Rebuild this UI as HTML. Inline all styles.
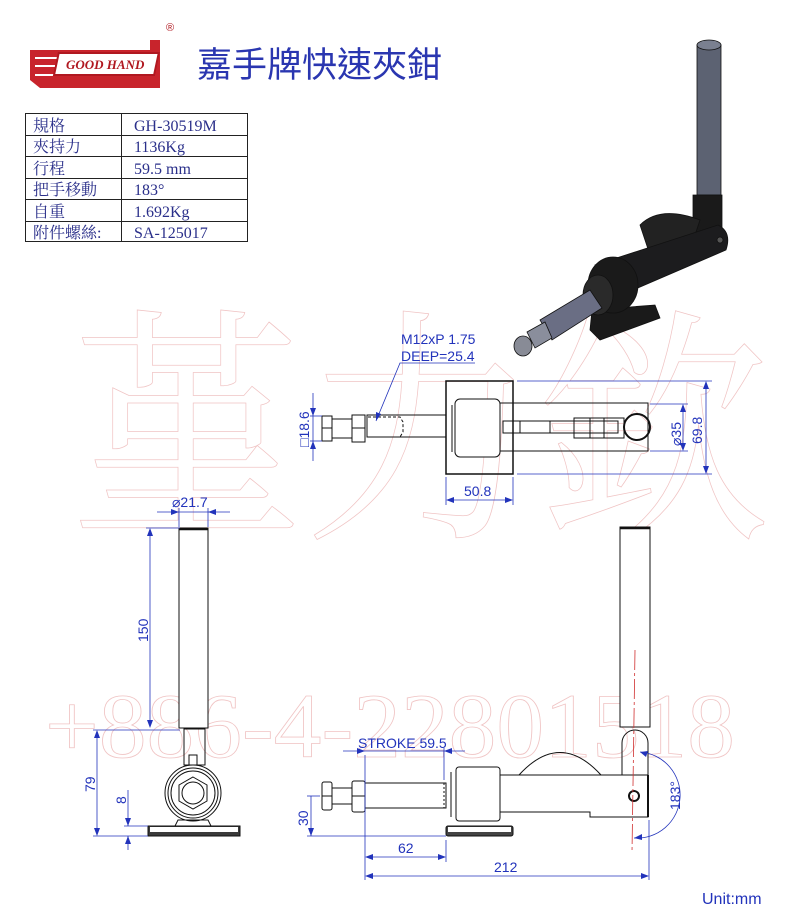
<!DOCTYPE html>
<html><head><meta charset="utf-8"><style>
html,body{margin:0;padding:0;background:#fff;}
svg{display:block;}
</style></head><body>
<svg width="800" height="915" viewBox="0 0 800 915" xmlns="http://www.w3.org/2000/svg">
<!-- watermark -->
<g fill="none" stroke="#f0c4c4" stroke-width="0.8" font-family="'Noto Serif CJK SC',serif">
<text x="70" y="520" font-size="250" textLength="700" lengthAdjust="spacingAndGlyphs">堇力欽</text>
</g>
<text x="45" y="757" font-family="'Liberation Serif',serif" font-size="92" fill="none" stroke="#f0c4c4" stroke-width="0.8" textLength="690" lengthAdjust="spacingAndGlyphs">+886-4-22801518</text>

<!-- logo -->
<g>
<path d="M30 50 L150 50 L150 40 L160 40 L160 88 L40 88 L30 80 Z" fill="#c8242c"/>
<path d="M40 47 L140 47 M35 58 L60 58 M35 66 L55 66 M35 75 L55 75" stroke="#fff" stroke-width="2"/>
<rect x="58" y="53" width="100" height="22" fill="#fff" stroke="#b01820" stroke-width="2" transform="skewX(-12) translate(12,0)"/>
<text x="66" y="69" font-family="'Liberation Serif',serif" font-style="italic" font-weight="bold" font-size="13" fill="#b01820">GOOD HAND</text>
<text x="166" y="31" font-family="'Liberation Sans',sans-serif" font-size="11" fill="#b01820">®</text>
</g>
<text x="197" y="77" font-family="'Liberation Sans','Noto Sans CJK TC',sans-serif" font-size="35" fill="#2a36b0">嘉手牌快速夾鉗</text>

<!-- table -->
<g stroke="#222" stroke-width="1" fill="none">
<rect x="25.5" y="113.5" width="222" height="128"/>
<line x1="121.5" y1="113" x2="121.5" y2="242"/>
<line x1="25" y1="135.5" x2="248" y2="135.5"/><line x1="25" y1="156.5" x2="248" y2="156.5"/>
<line x1="25" y1="178.5" x2="248" y2="178.5"/><line x1="25" y1="199.5" x2="248" y2="199.5"/>
<line x1="25" y1="221.5" x2="248" y2="221.5"/>
</g>
<g font-family="'Liberation Serif','Noto Serif CJK TC',serif" font-size="16" fill="#2a2f8a">
<text x="33" y="131">規格</text><text x="134" y="131">GH-30519M</text>
<text x="33" y="152">夾持力</text><text x="134" y="152">1136Kg</text>
<text x="33" y="174">行程</text><text x="134" y="174">59.5 mm</text>
<text x="33" y="195">把手移動</text><text x="134" y="195">183°</text>
<text x="33" y="217">自重</text><text x="134" y="217">1.692Kg</text>
<text x="33" y="238">附件螺絲:</text><text x="134" y="238">SA-125017</text>
</g>

<!-- iso view -->
<g stroke="#111" stroke-width="0.8">
<path d="M697 45 L721 45 L721 195 L697 195 Z" fill="#5c6272"/>
<ellipse cx="709" cy="45" rx="12" ry="5" fill="#7a8090"/>
<path d="M693 195 L722 195 L722 245 L693 250 Z" fill="#1a1a1a"/>
<path d="M640 225 Q660 205 700 220 L690 250 L650 255 Z" fill="#222"/>
<path d="M595 265 L718 225 Q732 232 726 250 L610 300 Z" fill="#1c1c1e"/>
<circle cx="720" cy="240" r="3" fill="#555"/>
<path d="M592 310 L655 305 L660 318 L600 340 L590 330 Z" fill="#1a1a1a"/>
<ellipse cx="613" cy="285" rx="25" ry="28" fill="#1a1a1a"/>
<ellipse cx="598" cy="295" rx="15" ry="20" fill="#2a2a2a"/>
<path d="M540 320 L590 290 L602 308 L552 340 Z" fill="#6a6e84"/>
<path d="M527 332 L545 322 L552 338 L535 348 Z" fill="#8a8e9c"/>
<ellipse cx="523" cy="346" rx="9" ry="10" fill="#888b96"/>
</g>

<!-- top view -->
<g stroke="#111" stroke-width="1" fill="none">
<rect x="446" y="381" width="67" height="93" stroke-width="1.5"/>
<rect x="500" y="403" width="148" height="48"/>
<rect x="455" y="399" width="45" height="58" rx="5" fill="#fff"/>
<line x1="452" y1="405" x2="452" y2="452"/>
<rect x="367" y="415" width="79" height="22"/>
<rect x="322" y="416" width="10" height="25"/><line x1="322" y1="428" x2="332" y2="428"/>
<rect x="332" y="419" width="20" height="19"/>
<rect x="352" y="415" width="13" height="27"/><line x1="352" y1="428" x2="365" y2="428"/>
<path d="M368 417 L400 417 L403 422 L403 432 L400 437 L368 437" stroke-dasharray="3,2"/>
<rect x="503" y="421" width="115" height="12"/>
<line x1="520" y1="421" x2="520" y2="433"/><line x1="550" y1="421" x2="550" y2="433"/>
<rect x="574" y="418" width="50" height="20"/>
<line x1="590" y1="418" x2="590" y2="438"/><line x1="604" y1="418" x2="604" y2="438"/>
<circle cx="637" cy="427" r="13" stroke-width="2"/>
</g>
<g stroke="#2233bb" stroke-width="0.8" fill="none">
<line x1="517" y1="381" x2="712" y2="381"/><line x1="517" y1="474" x2="712" y2="474"/>
<line x1="706" y1="383" x2="706" y2="472"/>
<line x1="650" y1="404" x2="688" y2="404"/><line x1="650" y1="451" x2="688" y2="451"/>
<line x1="683" y1="406" x2="683" y2="449"/>
<line x1="446" y1="477" x2="446" y2="505"/><line x1="513" y1="477" x2="513" y2="505"/>
<line x1="448" y1="500" x2="511" y2="500"/>
<line x1="310" y1="416" x2="322" y2="416"/><line x1="310" y1="441" x2="322" y2="441"/>
<line x1="313" y1="393" x2="313" y2="461"/>
<polyline points="376,421 400,363 475,363"/>
</g>
<g fill="#2233bb">
<path d="M706 381 l-3 8 h6z M706 474 l-3 -8 h6z M683 404 l-3 8 h6z M683 451 l-3 -8 h6z M446 500 l8 -3 v6z M513 500 l-8 -3 v6z M313 416 l-3 -8 h6z M313 441 l-3 8 h6z M376 421 l0 -9 l5 2z"/>
</g>
<g font-family="'Liberation Sans',sans-serif" font-size="14" fill="#2233bb">
<text x="401" y="344">M12xP 1.75</text>
<text x="401" y="361">DEEP=25.4</text>
<text x="464" y="496">50.8</text>
<text transform="translate(702,444) rotate(-90)">69.8</text>
<text transform="translate(681,446) rotate(-90)">⌀35</text>
<text transform="translate(309,447) rotate(-90)">□18.6</text>
</g>

<!-- left view -->
<g stroke="#111" stroke-width="1" fill="none">
<rect x="179" y="528" width="29" height="200" fill="#fff"/>
<line x1="179" y1="529" x2="208" y2="529" stroke-width="2.5"/>
<rect x="184" y="729" width="21" height="36"/>
<rect x="189" y="755" width="8" height="10"/>
<circle cx="193" cy="793" r="28"/><circle cx="193" cy="793" r="25"/><circle cx="193" cy="793" r="22"/>
<polygon points="193,777 207,785 207,801 193,809 179,801 179,785"/>
<circle cx="193" cy="793" r="11"/>
<path d="M178 820 h30 l3 6 h-36z"/>
<rect x="148" y="826" width="92" height="10" fill="#3a3a3a" stroke-width="1"/>
<rect x="150" y="827" width="88" height="5" fill="#fff" stroke="none"/>
</g>
<g stroke="#2233bb" stroke-width="0.8" fill="none">
<line x1="157" y1="512" x2="230" y2="512"/>
<line x1="179" y1="508" x2="179" y2="527"/><line x1="208" y1="508" x2="208" y2="527"/>
<line x1="146" y1="528" x2="180" y2="528"/><line x1="150" y1="530" x2="150" y2="726"/>
<line x1="93" y1="730" x2="180" y2="730"/><line x1="97" y1="732" x2="97" y2="834"/>
<line x1="93" y1="836" x2="148" y2="836"/><line x1="124" y1="826" x2="148" y2="826"/>
<line x1="128" y1="790" x2="128" y2="826"/><line x1="128" y1="836" x2="128" y2="850"/>
</g>
<g fill="#2233bb">
<path d="M179 512 l-8 -3 v6z M208 512 l8 -3 v6z M150 528 l-3 8 h6z M150 728 l-3 -8 h6z M97 730 l-3 8 h6z M97 836 l-3 -8 h6z M128 826 l-3 -8 h6z M128 836 l-3 8 h6z"/>
</g>
<g font-family="'Liberation Sans',sans-serif" font-size="14" fill="#2233bb">
<text x="172" y="507">⌀21.7</text>
<text transform="translate(148,642) rotate(-90)">150</text>
<text transform="translate(95,792) rotate(-90)">79</text>
<text transform="translate(126,804) rotate(-90)">8</text>
</g>

<!-- side view -->
<g stroke="#111" stroke-width="1" fill="none">
<rect x="620" y="527" width="30" height="200" fill="#fff"/>
<line x1="620" y1="528" x2="650" y2="528" stroke-width="2.5"/>
<path d="M622 775 L622 743 A13 13 0 0 1 648 743 L648 775"/>
<path d="M519 775 Q560 730 601 775"/>
<path d="M500 775 L648 775 L648 817 L590 817 L590 812 L500 812 Z" fill="#fff"/>
<line x1="648" y1="775" x2="648" y2="817" stroke-width="2"/>
<rect x="456" y="767" width="44" height="54" rx="3" fill="#fff"/>
<line x1="451" y1="772" x2="451" y2="817"/>
<rect x="446" y="826" width="67" height="10" rx="2" fill="#444"/>
<rect x="448" y="827" width="63" height="5" fill="#fff" stroke="none"/>
<rect x="365" y="783" width="81" height="25"/>
<line x1="444" y1="783" x2="444" y2="808" stroke-dasharray="2,2"/>
<rect x="322" y="782" width="10" height="28" rx="2"/><line x1="322" y1="796" x2="332" y2="796"/>
<rect x="332" y="788" width="20" height="16"/>
<rect x="352" y="781" width="13" height="31" rx="2"/><line x1="352" y1="796" x2="365" y2="796"/>
<circle cx="634" cy="796" r="5" stroke-width="2"/>
</g>
<line x1="635" y1="650" x2="632" y2="852" stroke="#d03030" stroke-width="0.8" stroke-dasharray="20,3,3,3"/>
<g stroke="#2233bb" stroke-width="0.8" fill="none">
<line x1="343" y1="751" x2="465" y2="751"/>
<line x1="365" y1="755" x2="365" y2="880"/><line x1="444" y1="748" x2="444" y2="780"/>
<line x1="307" y1="836" x2="446" y2="836"/><line x1="311" y1="796" x2="311" y2="836"/>
<line x1="307" y1="796" x2="320" y2="796"/>
<line x1="446" y1="840" x2="446" y2="862"/>
<line x1="367" y1="857" x2="444" y2="857"/>
<line x1="649" y1="820" x2="649" y2="880"/>
<line x1="367" y1="876" x2="647" y2="876"/>
<path d="M640 752 A43 43 0 0 1 634 838"/>
</g>
<g fill="#2233bb">
<path d="M365 751 l-8 -3 v6z M444 751 l8 -3 v6z M311 836 l-3 -8 h6z M365 857 l8 -3 v6z M446 857 l-8 -3 v6z M365 876 l8 -3 v6z M649 876 l-8 -3 v6z M640 752 l8 -1 l-2 6z M634 838 l8 -4 l0 6z"/>
</g>
<g font-family="'Liberation Sans',sans-serif" font-size="14" fill="#2233bb">
<text x="358" y="748">STROKE 59.5</text>
<text x="398" y="853">62</text>
<text x="494" y="872">212</text>
<text transform="translate(308,826) rotate(-90)">30</text>
<text transform="translate(680,810) rotate(-90)">183°</text>
<text x="702" y="904" font-size="16">Unit:mm</text>
</g>
</svg>
</body></html>
